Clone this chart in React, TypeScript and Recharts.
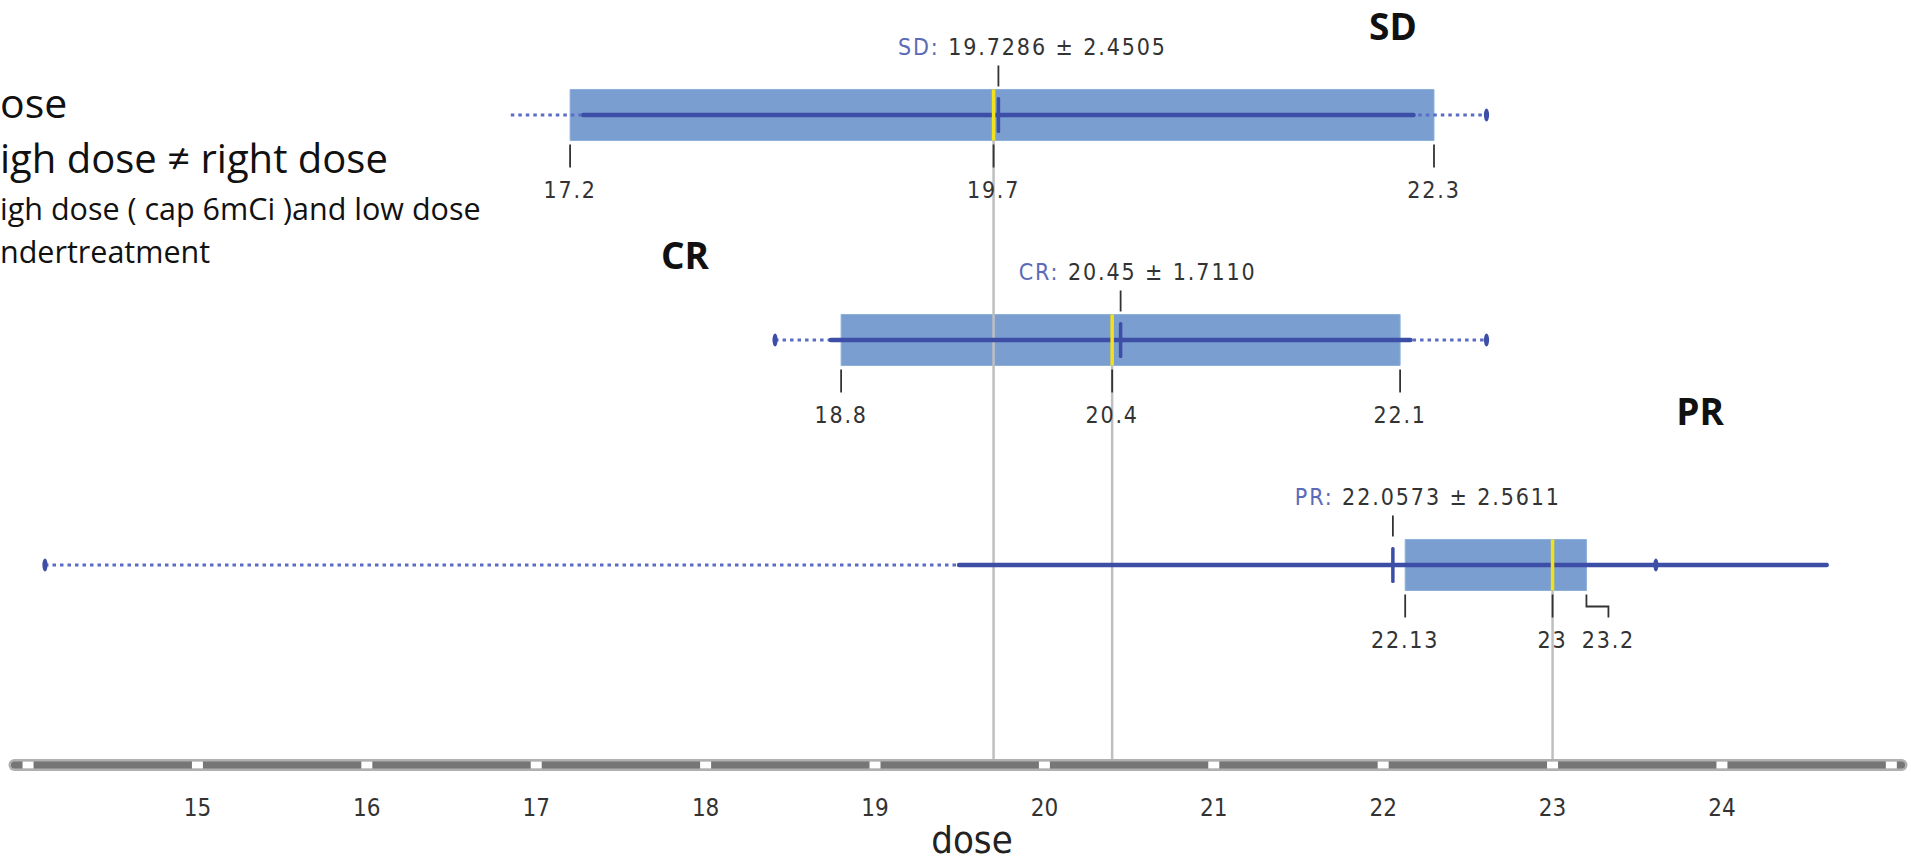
import React from "react";
import {
  ComposedChart,
  ReferenceArea,
  ReferenceLine,
  Scatter,
  XAxis,
  YAxis,
} from "recharts";

// groups, top to bottom
const groups = ["SD", "CR", "PR"];
const rows = [0, 1, 2];

// box plot values
const whiskerLow = [16.85, 18.41, 14.1];
const whiskerHigh = [22.61, 22.61, 23.61];
const lowCap = [false, true, true];
const q1 = [17.2, 18.8, 22.13];
const median = [19.7, 20.4, 23];
const q3 = [22.3, 22.1, 23.2];
const means = [19.7286, 20.45, 22.0573];
const sds = [2.4505, 1.711, 2.5611];
const meanText = ["19.7286", "20.45", "22.0573"];
const sdText = ["2.4505", "1.7110", "2.5611"];

const doseTicks = [15, 16, 17, 18, 19, 20, 21, 22, 23, 24];
const axisBreaks = [14, 15, 16, 17, 18, 19, 20, 21, 22, 23, 24, 25];

const noteLines = [
  "ose",
  "igh dose ≠ right dose",
  "igh dose ( cap 6mCi )and low dose",
  "ndertreatment",
];

// layout / style
const W = 1911;
const H = 864;
const X_DOMAIN: [number, number] = [13.92, 25.06];
const Y_MIN = -0.511;
const Y_MAX = 2.889;
const PX = 1 / 225; // y units per pixel
const BOX = 25.5 * PX;
const NUM_FONT = "'DejaVu Sans Condensed', 'DejaVu Sans', sans-serif";
const TEXT_FONT = "'Open Sans', 'Noto Sans', sans-serif";
const BOX_FILL = "#7a9ed0";
const SOLID = "#3d4ea6";
const DOTTED = "#5a6cc4";
const MEDIAN = "#f1e21c";
const GUIDE = "#bfbfbf";
const INK = "#333333";
const topLabelDx: Record<string, number> = { SD: 34, CR: 17, PR: 35 };
// bottom value labels pushed sideways with an elbow leader
const bottomShift: Record<string, number> = { "PR-q3": 22 };

const meanPoints = means.map((m, i) => ({ x: m, y: rows[i] }));
const capPoints = rows.flatMap((r, i) => {
  const pts = [{ x: whiskerHigh[i], y: r }];
  if (lowCap[i]) pts.push({ x: whiskerLow[i], y: r });
  return pts;
});

function TopLabel(props: any) {
  const { viewBox, name, mean, sd } = props;
  const x = viewBox.x + (topLabelDx[name] ?? 0);
  return (
    <text
      x={x}
      y={viewBox.y - 10}
      textAnchor="middle"
      fontFamily={NUM_FONT}
      fontSize={23}
      letterSpacing={1.9}
    >
      <tspan fill="#5b6bb8">{name}:</tspan>
      <tspan fill={INK}>{` ${mean} ± ${sd}`}</tspan>
    </text>
  );
}

function BottomLabel(props: any) {
  const { viewBox, value, shift } = props;
  const x = viewBox.x;
  const top = viewBox.y;
  const bottom = viewBox.y + viewBox.height;
  return (
    <g>
      {shift ? (
        <path
          d={`M${x},${top} L${x},${top + 12} L${x + shift},${top + 12} L${x + shift},${bottom}`}
          fill="none"
          stroke={INK}
          strokeWidth={1.8}
        />
      ) : null}
      <text
        x={x + (shift || 0)}
        y={bottom + 31}
        textAnchor="middle"
        fontFamily={NUM_FONT}
        fontSize={23}
        letterSpacing={1.8}
        fill={INK}
      >
        {String(value)}
      </text>
    </g>
  );
}

export default function App() {
  return (
    <div style={{ position: "absolute", left: 0, top: 0, width: W, height: H, background: "#fff" }}>
      <ComposedChart
        width={W}
        height={H}
        margin={{ top: 0, right: 9.5, bottom: 0, left: 14.5 }}
      >
        <XAxis
          type="number"
          dataKey="x"
          domain={X_DOMAIN}
          allowDataOverflow
          ticks={doseTicks}
          interval={0}
          height={99}
          axisLine={false}
          tickLine={false}
          tickSize={0}
          tickMargin={34}
          tick={{ fontSize: 24, fill: INK, fontFamily: NUM_FONT }}
          label={{
            value: "dose",
            position: "insideBottom",
            offset: 11,
            dx: 14,
            fontSize: 38,
            fill: "#222",
            fontFamily: NUM_FONT,
          }}
        />
        <YAxis
          type="number"
          dataKey="y"
          domain={[Y_MIN, Y_MAX]}
          allowDataOverflow
          reversed
          hide
          width={0}
        />

        {/* axis bar */}
        <ReferenceLine
          segment={[
            { x: X_DOMAIN[0], y: Y_MAX },
            { x: X_DOMAIN[1], y: Y_MAX },
          ]}
          stroke="#b0b0b0"
          strokeWidth={12}
          strokeLinecap="round"
          ifOverflow="visible"
        />
        <ReferenceLine
          segment={[
            { x: X_DOMAIN[0], y: Y_MAX },
            { x: X_DOMAIN[1], y: Y_MAX },
          ]}
          stroke="#767676"
          strokeWidth={7}
          strokeLinecap="round"
          ifOverflow="visible"
        />
        {axisBreaks.map((b) => (
          <ReferenceLine
            key={`brk-${b}`}
            segment={[
              { x: b, y: Y_MAX - 3.5 * PX },
              { x: b, y: Y_MAX + 3.5 * PX },
            ]}
            stroke="#ffffff"
            strokeWidth={11}
            ifOverflow="visible"
          />
        ))}

        {/* boxes */}
        {rows.map((r, i) => (
          <ReferenceArea
            key={`box-${i}`}
            x1={q1[i]}
            x2={q3[i]}
            y1={r - BOX}
            y2={r + BOX}
            fill={BOX_FILL}
            fillOpacity={1}
            stroke="#8db0dc"
            strokeWidth={1}
            ifOverflow="visible"
          />
        ))}

        {/* guide lines from each median down to the axis */}
        {rows.map((r, i) => (
          <ReferenceLine
            key={`guide-${i}`}
            segment={[
              { x: median[i], y: r + BOX },
              { x: median[i], y: Y_MAX - 6 * PX },
            ]}
            stroke={GUIDE}
            strokeWidth={2.5}
          />
        ))}

        {/* whiskers (dotted) and mean ± sd (solid) */}
        {rows.map((r, i) => (
          <ReferenceLine
            key={`wh-${i}`}
            segment={[
              { x: whiskerLow[i], y: r },
              { x: whiskerHigh[i], y: r },
            ]}
            stroke={DOTTED}
            strokeWidth={3}
            strokeDasharray="3.5 4"
          />
        ))}
        {rows.map((r, i) => (
          <ReferenceLine
            key={`sd-${i}`}
            segment={[
              { x: means[i] - sds[i], y: r },
              { x: means[i] + sds[i], y: r },
            ]}
            stroke={SOLID}
            strokeWidth={4.5}
            strokeLinecap="round"
          />
        ))}

        {/* medians */}
        {rows.map((r, i) => (
          <ReferenceLine
            key={`med-${i}`}
            segment={[
              { x: median[i], y: r - BOX },
              { x: median[i], y: r + BOX },
            ]}
            stroke={MEDIAN}
            strokeWidth={3.5}
          />
        ))}

        {/* mean tick + label above the box */}
        {rows.map((r, i) => (
          <ReferenceLine
            key={`top-${i}`}
            segment={[
              { x: means[i], y: r - BOX - 24 * PX },
              { x: means[i], y: r - BOX - 3 * PX },
            ]}
            stroke={INK}
            strokeWidth={1.8}
            label={(p: any) => (
              <TopLabel
                viewBox={p.viewBox}
                name={groups[i]}
                mean={meanText[i]}
                sd={sdText[i]}
              />
            )}
          />
        ))}

        {/* q1 / median / q3 ticks + labels below the box */}
        {rows.flatMap((r, i) =>
          (
            [
              ["q1", q1[i]],
              ["med", median[i]],
              ["q3", q3[i]],
            ] as [string, number][]
          ).map(([k, v]) => {
            const shift = bottomShift[`${groups[i]}-${k}`] ?? 0;
            return (
              <ReferenceLine
                key={`bot-${i}-${k}`}
                segment={[
                  { x: v, y: r + BOX + 4 * PX },
                  { x: v, y: r + BOX + 27 * PX },
                ]}
                stroke={shift ? "none" : INK}
                strokeWidth={1.8}
                label={(p: any) => (
                  <BottomLabel viewBox={p.viewBox} value={v} shift={shift} />
                )}
              />
            );
          })
        )}

        <Scatter
          data={meanPoints}
          isAnimationActive={false}
          shape={(p: any) => (
            <rect
              x={p.cx - 1.75}
              y={p.cy - 18}
              width={3.5}
              height={36}
              rx={1.5}
              fill={SOLID}
            />
          )}
        />
        <Scatter
          data={capPoints}
          isAnimationActive={false}
          shape={(p: any) => (
            <ellipse cx={p.cx} cy={p.cy} rx={2.6} ry={6.5} fill={SOLID} />
          )}
        />
      </ComposedChart>

      <svg
        width={W}
        height={H}
        style={{ position: "absolute", left: 0, top: 0, pointerEvents: "none" }}
      >
        <g fontFamily={TEXT_FONT} fill="#111">
          <text x={0} y={118} fontSize={41}>{noteLines[0]}</text>
          <text x={0} y={173} fontSize={40}>{noteLines[1]}</text>
          <text x={0} y={220} fontSize={30.5}>{noteLines[2]}</text>
          <text x={0} y={263} fontSize={30.5}>{noteLines[3]}</text>
        </g>
        <g fontFamily={TEXT_FONT} fontWeight={700} fontSize={37} fill="#111" textAnchor="middle">
          <text x={1393} y={40}>{groups[0]}</text>
          <text x={685} y={269}>{groups[1]}</text>
          <text x={1700} y={425}>{groups[2]}</text>
        </g>
      </svg>
    </div>
  );
}
